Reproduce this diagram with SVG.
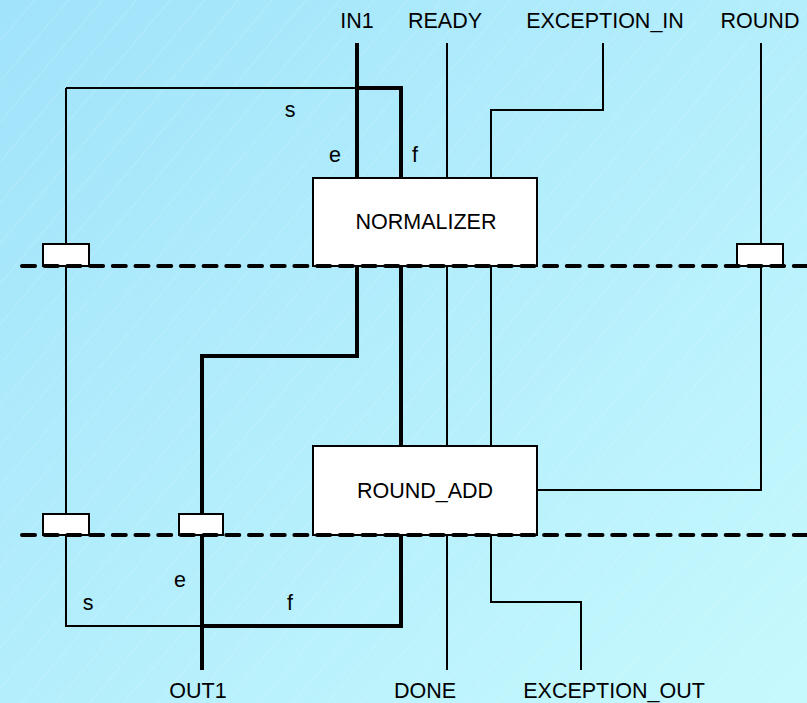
<svg xmlns="http://www.w3.org/2000/svg" width="807" height="703" viewBox="0 0 807 703">
<defs>
<linearGradient id="bg" x1="0" y1="0" x2="1" y2="1">
<stop offset="0" stop-color="#a1e3fb"/>
<stop offset="1" stop-color="#c6f9fd"/>
</linearGradient>
<pattern id="stripes" width="26" height="26" patternUnits="userSpaceOnUse" patternTransform="rotate(-50)">
<line x1="0" y1="0" x2="26" y2="0" stroke="#ffffff" stroke-width="1" stroke-opacity="0.3"/>
</pattern>
<style>
.thin{fill:none;stroke:#000;stroke-width:2}
.thick{fill:none;stroke:#000;stroke-width:4}
.box{fill:#fff;stroke:#000;stroke-width:2}
.port{fill:#fff;stroke:#000;stroke-width:2}
.dash{fill:none;stroke:#000;stroke-width:4;stroke-dasharray:13 9.7;stroke-linecap:round}
text{font-family:"Liberation Sans",Arial,sans-serif;font-size:21.5px;fill:#000;text-anchor:middle}
</style>
</defs>
<rect width="807" height="703" fill="url(#bg)"/>
<rect width="807" height="703" fill="url(#stripes)"/>
<g id="connectors">
<path class="thin" d="M66 88 H357 M66 88 V626 H202"/>
<path class="thin" d="M447 43 V670"/>
<path class="thin" d="M603 43 V110 H491 V602 H581 V670"/>
<path class="thin" d="M761 43 V490 H537"/>
<path class="thick" d="M357 43 V356 H202 V670"/>
<path class="thick" d="M357 88 H401 V626 H202"/>
</g>
<g id="normalizer">
<rect class="box" x="313" y="178" width="224" height="88"/>
<text x="426" y="229">NORMALIZER</text>
</g>
<g id="round_add">
<rect class="box" x="313" y="446" width="224" height="89"/>
<text x="425" y="498">ROUND_ADD</text>
</g>
<g id="port1"><rect class="port" x="43" y="244" width="46" height="22"/></g>
<g id="port2"><rect class="port" x="737" y="244" width="46" height="22"/></g>
<g id="port3"><rect class="port" x="43" y="514" width="46" height="21"/></g>
<g id="port4"><rect class="port" x="179" y="514" width="44" height="21"/></g>
<g id="boundaries">
<line class="dash" x1="22" y1="266" x2="807" y2="266"/>
<line class="dash" x1="22" y1="535" x2="807" y2="535"/>
</g>
<g id="labels">
<text x="357" y="28">IN1</text>
<text x="445" y="28">READY</text>
<text x="605" y="28">EXCEPTION_IN</text>
<text x="760" y="28">ROUND</text>
<text x="290" y="117">s</text>
<text x="335" y="162">e</text>
<text x="415" y="162">f</text>
<text x="88" y="610">s</text>
<text x="180" y="587">e</text>
<text x="290" y="610">f</text>
<text x="198" y="698">OUT1</text>
<text x="425" y="698">DONE</text>
<text x="614" y="698">EXCEPTION_OUT</text>
</g>
</svg>
